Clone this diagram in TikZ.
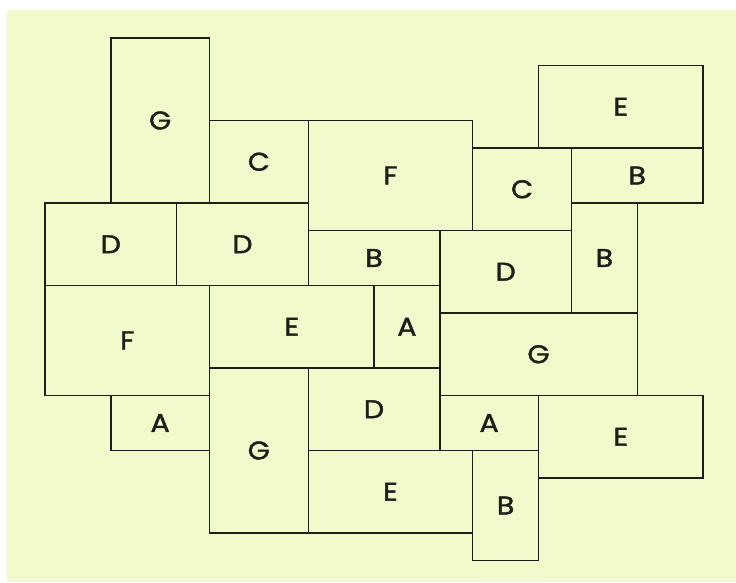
\documentclass[tikz,border=0pt]{standalone}
\usepackage{fontspec}
\newfontfamily\tilefont[FakeBold=1.6, FakeStretch=1.12]{Poppins}
\usepackage{tikz}
\definecolor{paper}{RGB}{241,250,202}
\definecolor{edge}{RGB}{30,30,25}

\begin{document}
\begin{tikzpicture}[x=1pt, y=1pt,
  tile/.style={draw=edge, line width=1.4pt},
  lab/.style={font=\tilefont\fontsize{25.5}{25.5}\selectfont, text=edge, inner sep=0pt}]
\useasboundingbox (0,0) rectangle (736,583);
\fill[paper] (7,1) rectangle (736,573);
\begin{scope}[shift={(45pt,545pt)}, x=32.9pt, y=-27.5pt]
% tiles: left/top/right/bottom in grid units, then letter
\foreach \xa/\ya/\xb/\yb/\lab [count=\n] in {
  2/0/5/6/G, 5/3/8/6/C, 8/3/13/7/F, 13/4/16/7/C, 15/1/20/4/E,
  16/4/20/6/B, 16/6/18/10/B, 0/6/4/9/D, 4/6/8/9/D, 8/7/12/9/B,
  12/7/16/10/D, 0/9/5/13/F, 5/9/10/12/E, 10/9/12/12/A, 12/10/18/13/G,
  2/13/5/15/A, 5/12/8/18/G, 8/12/12/15/D, 12/13/15/15/A, 15/13/20/16/E,
  8/15/13/18/E, 13/15/15/19/B}
  \draw[tile] (\xa,\ya) rectangle (\xb,\yb)
    node[lab] (t\n) at ({(\xa+\xb)/2},{(\ya+\yb)/2}) {\lab};
\end{scope}
\end{tikzpicture}
\end{document}
